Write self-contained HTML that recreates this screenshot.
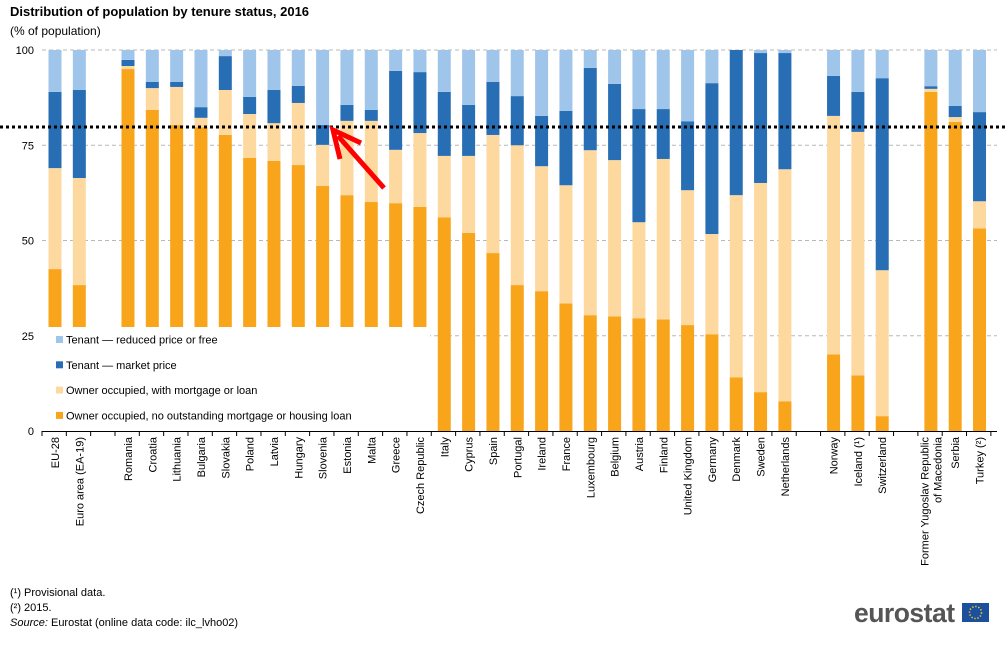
<!DOCTYPE html>
<html><head><meta charset="utf-8"><style>
body{margin:0;background:#fff;font-family:"Liberation Sans",Arial,sans-serif;}
svg text{font-family:"Liberation Sans",Arial,sans-serif;}
</style></head><body>
<svg id="c" width="1005" height="643" xmlns="http://www.w3.org/2000/svg">
<text x="10" y="16" font-size="13" font-weight="bold" fill="#000">Distribution of population by tenure status, 2016</text>
<text x="10" y="35" font-size="12" fill="#000">(% of population)</text>
<g id="grid"></g>
<g id="bars"></g>
<g id="legendg"></g>
<g id="xlabels"></g>
<text x="10" y="596" font-size="11">(¹) Provisional data.</text>
<text x="10" y="611" font-size="11">(²) 2015.</text>
<text x="10" y="626" font-size="11"><tspan font-style="italic">Source:</tspan> Eurostat (online data code: ilc_lvho02)</text>
<g>
<text x="854" y="622" font-size="26.5" font-weight="bold" fill="#555" letter-spacing="-0.5">eurostat</text>
<rect x="962" y="603" width="27" height="19" fill="#1c4f9c"/>
<circle cx="975.5" cy="612.5" r="6" fill="none" stroke="#ffd617" stroke-width="1.6" stroke-dasharray="1.2 1.9"/>
</g>
</svg>
<script>
const categories=["EU-28","Euro area (EA-19)",null,"Romania","Croatia","Lithuania","Bulgaria","Slovakia","Poland","Latvia","Hungary","Slovenia","Estonia","Malta","Greece","Czech Republic","Italy","Cyprus","Spain","Portugal","Ireland","France","Luxembourg","Belgium","Austria","Finland","United Kingdom","Germany","Denmark","Sweden","Netherlands",null,"Norway","Iceland (¹)","Switzerland",null,"Former Yugoslav Republic|of Macedonia","Serbia","Turkey (²)"];
const ownerNoMortgage=[42.5,38.3,null,95.0,84.3,80.3,79.7,77.7,71.7,70.9,69.8,64.3,61.9,60.1,59.8,58.8,56.1,52.0,46.7,38.3,36.7,33.5,30.4,30.1,29.6,29.3,27.8,25.4,14.1,10.2,7.8,null,20.1,14.6,3.9,null,89.0,81.1,53.2];
const ownerMortgage=[26.5,28.1,null,0.8,5.7,10.0,2.5,11.8,11.5,9.9,16.3,10.8,19.5,21.3,14.0,19.4,16.1,20.2,31.0,36.7,32.8,31.0,43.3,41.0,25.2,42.1,35.4,26.3,47.8,54.9,60.9,null,62.6,63.9,38.3,null,0.8,1.3,7.1];
const tenantMarket=[20.0,23.1,null,1.6,1.6,1.3,2.8,8.9,4.5,8.7,4.5,5.2,4.2,2.9,20.7,16.0,16.8,13.4,13.9,12.9,13.2,19.5,21.6,20.0,29.7,13.1,18.1,39.6,38.1,34.1,30.5,null,10.5,10.5,50.4,null,0.7,2.9,23.4];
const tenantReduced=[11.0,10.5,null,2.6,8.4,8.4,15.0,1.6,12.3,10.5,9.4,19.7,14.4,15.7,5.5,5.8,11.0,14.4,8.4,12.1,17.3,16.0,4.7,8.9,15.5,15.5,18.7,8.7,0.0,0.8,0.8,null,6.8,11.0,7.4,null,9.5,14.7,16.3];
const yTicks=[0,25,50,75,100];
const referenceLine=[79.8];
const seriesNames=["Tenant — reduced price or free","Tenant — market price","Owner occupied, with mortgage or loan","Owner occupied, no outstanding mortgage or housing loan"];
const colors=["#f9a51b","#fdd9a0","#286eb4","#a0c5ea"];
const NS="http://www.w3.org/2000/svg";
const X0=42,X1=997,Y0=431,Y100=50;
const y=v=>Y0-(Y0-Y100)*v/100;
const step=24.33;
const xc=i=>55+i*step;
function mk(t,a,p){const e=document.createElementNS(NS,t);for(const k in a)e.setAttribute(k,a[k]);p.appendChild(e);return e;}
const grid=document.getElementById('grid'),bars=document.getElementById('bars'),xl=document.getElementById('xlabels');
yTicks.forEach(t=>{
 if(t>0){const l=mk('line',{x1:X0,x2:X1,y1:y(t),y2:y(t),stroke:'#b8b8b8','stroke-dasharray':'4 3'},grid);
 
 }
 const tx=mk('text',{x:34,y:y(t)+4,'font-size':11,'text-anchor':'end'},grid);tx.textContent=t;
 
 
});
const series=[ownerNoMortgage,ownerMortgage,tenantMarket,tenantReduced];
const segNames=['owner-no-mortgage','owner-mortgage','tenant-market','tenant-reduced'];
categories.forEach((c,i)=>{
 if(c===null)return;
 let acc=0;
 series.forEach((s,k)=>{
  const v=s[i];const r=mk('rect',{x:xc(i)-6.5,width:13,y:y(acc+v),height:y(acc)-y(acc+v),fill:colors[k]},bars);
  
  
  acc+=v;
 });
 const parts=c.split('|');
 parts.forEach((p,j)=>{
  const t=mk('text',{'font-size':11,'text-anchor':'end',transform:`translate(${xc(i)+4-(parts.length-1)*6.5+j*13},437) rotate(-90)`},xl);
  t.textContent=p;
  
  
 });
});
// legend
const lg=document.getElementById('legendg');


mk('rect',{x:42,y:327,width:388,height:105,fill:'#fff'},lg);
seriesNames.forEach((n,k)=>{
 const yy=340+k*25.3;
 const sq=mk('rect',{x:56,y:yy-4,width:7,height:7,fill:colors[3-k]},lg);
 
 
 const t=mk('text',{x:66,y:yy+3.5,'font-size':11},lg);t.textContent=n;
 
 
});
// axis
const ax=mk('line',{x1:X0,x2:X1,y1:Y0+0.5,y2:Y0+0.5,stroke:'#000'},xl);


for(let i=0;i<=categories.length;i++){const tk=mk('line',{x1:X0+i*step,x2:X0+i*step,y1:Y0,y2:Y0+5,stroke:'#000'},xl);
 
 }
// reference line
const rl=mk('line',{x1:0,x2:1005,y1:y(referenceLine[0]),y2:y(referenceLine[0]),stroke:'#000','stroke-width':3,'stroke-dasharray':'3 3'},document.getElementById('c'));


// arrow
const ar=mk('g',{},document.getElementById('c'));


mk('line',{x1:384,y1:188,x2:338,y2:136,stroke:'#f00','stroke-width':5},ar);
mk('polyline',{points:'340,159 333,130 361,143',fill:'none',stroke:'#f00','stroke-width':5},ar);
</script>
</body></html>
